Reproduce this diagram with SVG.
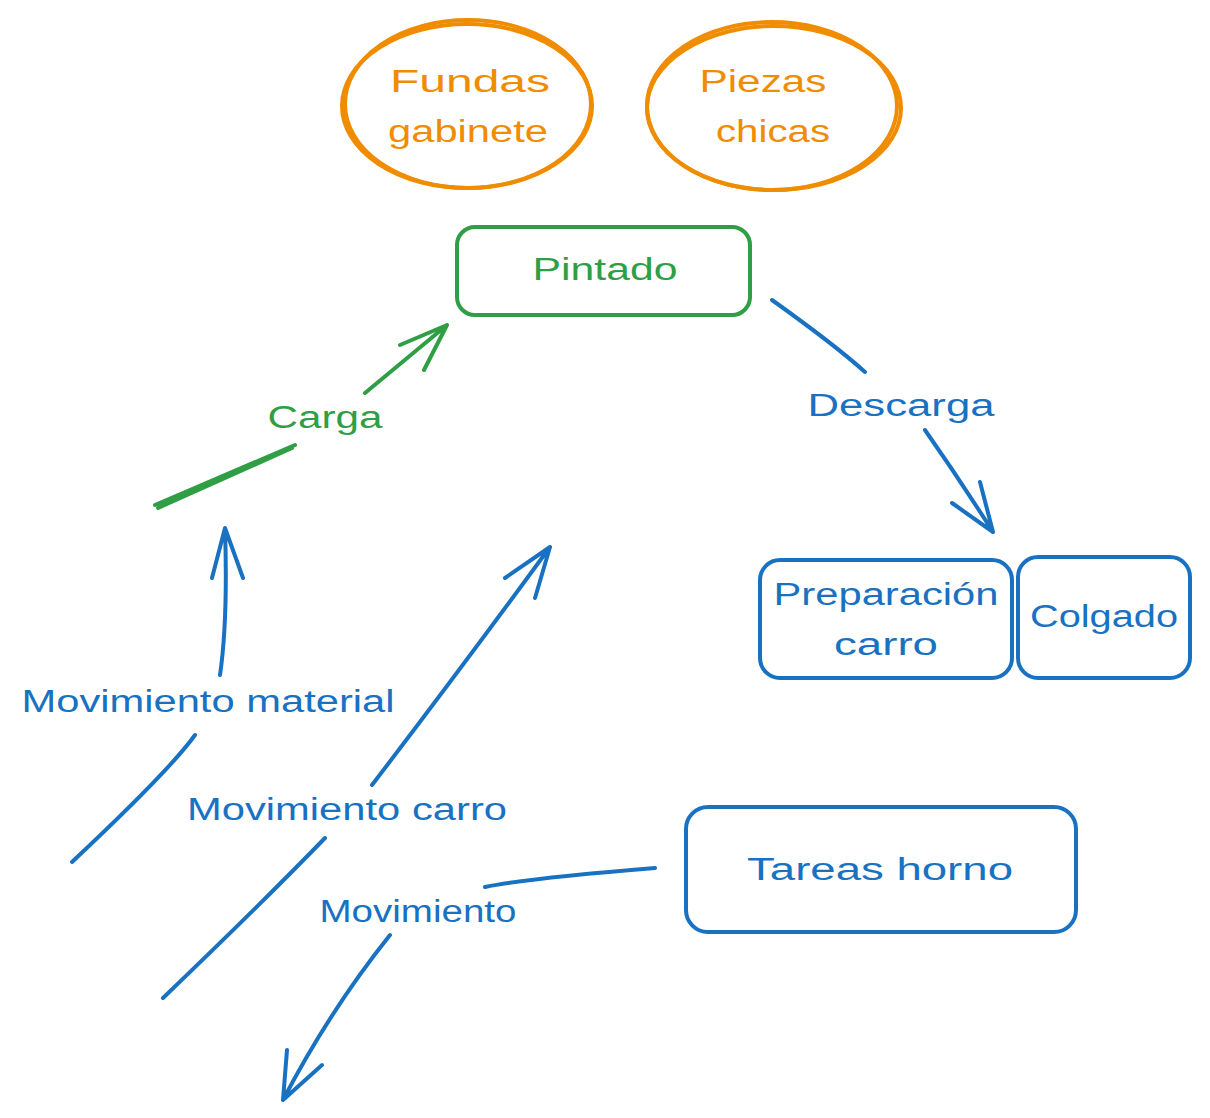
<svg xmlns="http://www.w3.org/2000/svg" width="1210" height="1118" viewBox="0 0 1210 1118">
<style>
text{font-family:"Liberation Sans","Noto Sans",sans-serif;font-size:31px;text-anchor:middle}
.o{fill:#f08c00}.g{fill:#2f9e44}.b{fill:#1971c2}
.so{fill:none;stroke:#f08c00;stroke-width:4}
.sg{fill:none;stroke:#2f9e44;stroke-width:4;stroke-linecap:round;stroke-linejoin:round}
.sb{fill:none;stroke:#1971c2;stroke-width:4;stroke-linecap:round;stroke-linejoin:round}
</style>
<rect width="1210" height="1118" fill="#ffffff"/>
<g id="fundas">
<ellipse class="so" cx="467" cy="106" rx="125" ry="82"/>
<ellipse class="so" cx="468" cy="104" rx="123" ry="84" stroke-width="2"/>
<text class="o" x="470" y="92" textLength="160" lengthAdjust="spacingAndGlyphs">Fundas</text>
<text class="o" x="468" y="142" textLength="160" lengthAdjust="spacingAndGlyphs">gabinete</text>
</g>
<g id="piezas">
<ellipse class="so" cx="774" cy="108" rx="127" ry="82"/>
<ellipse class="so" cx="772" cy="106" rx="125" ry="84" stroke-width="2"/>
<text class="o" x="763" y="92" textLength="127" lengthAdjust="spacingAndGlyphs">Piezas</text>
<text class="o" x="773" y="142" textLength="114" lengthAdjust="spacingAndGlyphs">chicas</text>
</g>
<g id="pintado">
<rect class="sg" x="457" y="227" width="293" height="88" rx="18"/>
<text class="g" x="605" y="280" textLength="145" lengthAdjust="spacingAndGlyphs">Pintado</text>
</g>
<g id="preparacion">
<rect class="sb" x="760" y="560" width="252" height="118" rx="20"/>
<text class="b" x="886" y="605" textLength="225" lengthAdjust="spacingAndGlyphs">Preparación</text>
<text class="b" x="886" y="655" textLength="104" lengthAdjust="spacingAndGlyphs">carro</text>
</g>
<g id="colgado">
<rect class="sb" x="1018" y="557" width="172" height="121" rx="20"/>
<text class="b" x="1104" y="627" textLength="148" lengthAdjust="spacingAndGlyphs">Colgado</text>
</g>
<g id="tareas">
<rect class="sb" x="686" y="807" width="390" height="125" rx="22"/>
<text class="b" x="880" y="880" textLength="266" lengthAdjust="spacingAndGlyphs">Tareas horno</text>
</g>
<g id="connectors">
<path class="sg" d="M155,505 L295,445 M158,508 L292,448 M365,393 L447,325 M400,345 L447,325 L424,370"/>
<path class="sb" d="M772,300 Q835,345 865,372 M925,430 Q960,480 993,532 M952,503 L993,532 L980,482"/>
<path class="sb" d="M72,862 Q170,770 195,735 M220,675 Q228,620 225,528 M212,578 L225,528 L243,578"/>
<path class="sb" d="M163,998 Q260,905 325,838 M372,785 Q460,670 550,547 M505,578 L550,547 L535,598"/>
<path class="sb" d="M655,868 Q530,878 485,887 M390,935 Q330,1010 283,1100 M287,1050 L283,1100 L322,1065"/>
<text class="g" x="325" y="428" textLength="115" lengthAdjust="spacingAndGlyphs">Carga</text>
<text class="b" x="901" y="416" textLength="187" lengthAdjust="spacingAndGlyphs">Descarga</text>
<text class="b" x="208" y="712" textLength="373" lengthAdjust="spacingAndGlyphs">Movimiento material</text>
<text class="b" x="347" y="820" textLength="320" lengthAdjust="spacingAndGlyphs">Movimiento carro</text>
<text class="b" x="418" y="922" textLength="197" lengthAdjust="spacingAndGlyphs">Movimiento</text>
</g>
</svg>
